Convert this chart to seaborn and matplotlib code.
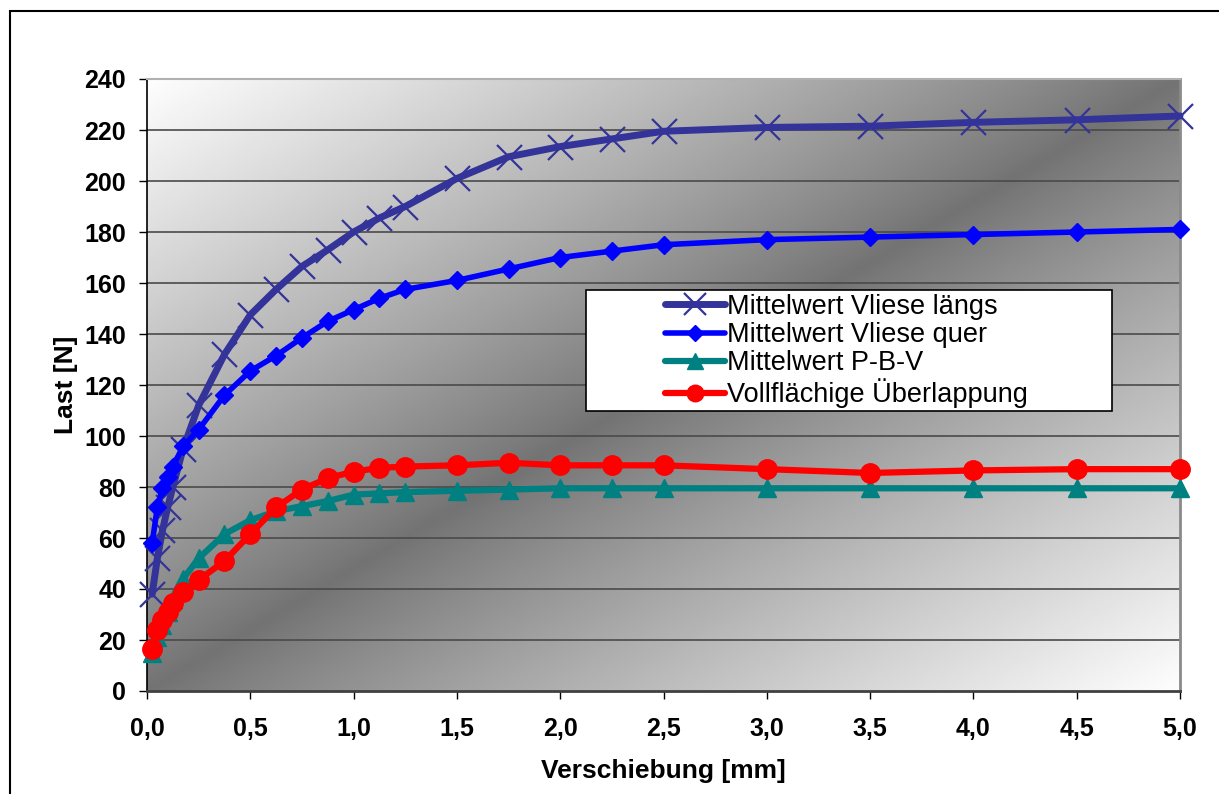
import numpy as np
import pandas as pd
import matplotlib
matplotlib.use("Agg")
import matplotlib.pyplot as plt
from matplotlib.patches import Rectangle
from matplotlib.ticker import FuncFormatter
import seaborn as sns

# ---- data ----
verschiebung = [0.025, 0.05, 0.075, 0.1, 0.125, 0.175, 0.25, 0.375, 0.5, 0.625, 0.75,
                0.875, 1.0, 1.125, 1.25, 1.5, 1.75, 2.0, 2.25, 2.5, 3.0, 3.5, 4.0, 4.5, 5.0]
vliese_laengs = [38, 52, 63, 72, 80, 95, 112, 132, 147.5, 157.5, 166.5, 173, 180, 185.5,
                 190, 201, 209.5, 213.5, 216.5, 219.5, 221, 221.5, 223, 224, 225.5]
vliese_quer = [58, 72, 79.5, 84, 88, 96, 102.5, 116, 125.5, 131.5, 138.5, 145, 149.5, 154,
               157.5, 161, 165.5, 170, 172.5, 175, 177, 178, 179, 180, 181]
pbv = [15, 21, 26, 31, 36, 44, 52, 61.5, 67, 70.5, 72.5, 74.5, 77, 77.5, 78, 78.5, 79,
       79.5, 79.5, 79.5, 79.5, 79.5, 79.5, 79.5, 79.5]
vollflaechig = [16.5, 24, 28, 31, 34.5, 39, 43.5, 51, 61.5, 72, 79, 83.5, 86, 87.5, 88,
                88.5, 89.5, 88.5, 88.5, 88.5, 87, 85.5, 86.5, 87, 87]

series_names = ["Mittelwert Vliese längs", "Mittelwert Vliese quer",
                "Mittelwert P-B-V", "Vollflächige Überlappung"]
series_values = [vliese_laengs, vliese_quer, pbv, vollflaechig]

x_ticks = [0, 0.5, 1.0, 1.5, 2.0, 2.5, 3.0, 3.5, 4.0, 4.5, 5.0]
y_ticks = list(range(0, 241, 20))

# ---- style ----
sns.set_style("white")
plt.rcParams["font.family"] = ["Liberation Sans", "DejaVu Sans"]
plt.rcParams["text.color"] = "black"
plt.rcParams["axes.labelcolor"] = "black"
plt.rcParams["xtick.color"] = "black"
plt.rcParams["ytick.color"] = "black"

styles = [
    dict(color="#333399", marker="x", markersize=18, markeredgewidth=1.6, linewidth=5),
    dict(color="#0000FF", marker="D", markersize=9, markeredgewidth=1, linewidth=4),
    dict(color="#008080", marker="^", markersize=13, markeredgewidth=1, linewidth=4.5),
    dict(color="#FF0000", marker="o", markersize=14, markeredgewidth=1, linewidth=4.5),
]

fig = plt.figure(figsize=(12.19, 7.94), dpi=100)
ax = fig.add_axes([147 / 1219, 1 - 691 / 794, (1180 - 147) / 1219, (691 - 79) / 794])

# gradient background
n = 400
XA, YA = np.meshgrid(np.linspace(0, 1, n), np.linspace(0, 1, n))
t = np.abs(XA - YA)
dark, light = 0.45, 0.995
grad = dark + (light - dark) * t ** 0.9
ax.imshow(grad, extent=[0, 1, 0, 1], transform=ax.transAxes, origin="lower",
          cmap="gray", vmin=0, vmax=1, aspect="auto", zorder=0, interpolation="bilinear")

# horizontal grid
for yv in y_ticks[1:-1]:
    ax.axhline(yv, color="#4a4a4a", linewidth=1.2, zorder=1)

for name, vals, st in zip(series_names, series_values, styles):
    df = pd.DataFrame({"x": verschiebung, "y": vals})
    sns.lineplot(data=df, x="x", y="y", ax=ax, label=name, sort=False,
                 markeredgecolor=st["color"], markerfacecolor=st["color"],
                 clip_on=False, zorder=3, **st)
if ax.get_legend():
    ax.get_legend().remove()

ax.set_xlim(0, 5)
ax.set_ylim(0, 240)
ax.set_xticks(x_ticks)
ax.set_yticks(y_ticks)
ax.xaxis.set_major_formatter(FuncFormatter(lambda v, p: f"{v:.1f}".replace(".", ",")))
ax.yaxis.set_major_formatter(FuncFormatter(lambda v, p: f"{int(round(v))}"))

ax.tick_params(axis="both", direction="out", length=6, width=1, color="black",
               labelcolor="black", labelsize=18, pad=8)
ax.tick_params(axis="x", pad=13)
ax.tick_params(axis="y", pad=9)
ax.tick_params(left=True, bottom=True)
for lbl in ax.get_xticklabels() + ax.get_yticklabels():
    lbl.set_fontweight("bold")

ax.spines["left"].set_color("black")
ax.spines["left"].set_linewidth(1.2)
ax.spines["bottom"].set_color("#404040")
ax.spines["bottom"].set_linewidth(2)
ax.spines["top"].set_color("#b0b0b0")
ax.spines["top"].set_linewidth(1.5)
ax.spines["right"].set_color("#8a8a8a")
ax.spines["right"].set_linewidth(2)
for s in ax.spines.values():
    s.set_zorder(2.5)

ax.set_xlabel("Verschiebung [mm]", fontsize=19, fontweight="bold", color="black")
ax.set_ylabel("Last [N]", fontsize=19, fontweight="bold", color="black")
ax.xaxis.label.set_va("center")
ax.xaxis.set_label_coords(0.5, -0.131)
ax.yaxis.label.set_va("center")
ax.yaxis.set_label_coords(-0.078, 0.5)

# legend box
x0 = (586 - 147) / 1033
x1 = (1112 - 147) / 1033
y0 = (691 - 411) / 612
y1 = (691 - 290) / 612
ax.add_patch(Rectangle((x0, y0), x1 - x0, y1 - y0, transform=ax.transAxes,
                       facecolor="white", edgecolor="black", linewidth=1.2, zorder=6))
leg = ax.legend(handles=[h for h in ax.get_lines() if h.get_label() in series_names],
                labels=series_names, loc="center left",
                bbox_to_anchor=((665 - 147) / 1033, (691 - 351) / 612),
                frameon=False, fontsize=19.5, handlelength=2.2, handletextpad=0.1,
                labelspacing=0.08, borderpad=0, borderaxespad=0, labelcolor="black",
                markerscale=0.85)
leg.set_zorder(7)

# outer frame
fig.patches.append(Rectangle((10 / 1219, -0.1), 1.2, (794 - 10.5) / 794 + 0.1,
                             transform=fig.transFigure, fill=False,
                             edgecolor="black", linewidth=1.5))

fig.savefig("out.png", dpi=100)
